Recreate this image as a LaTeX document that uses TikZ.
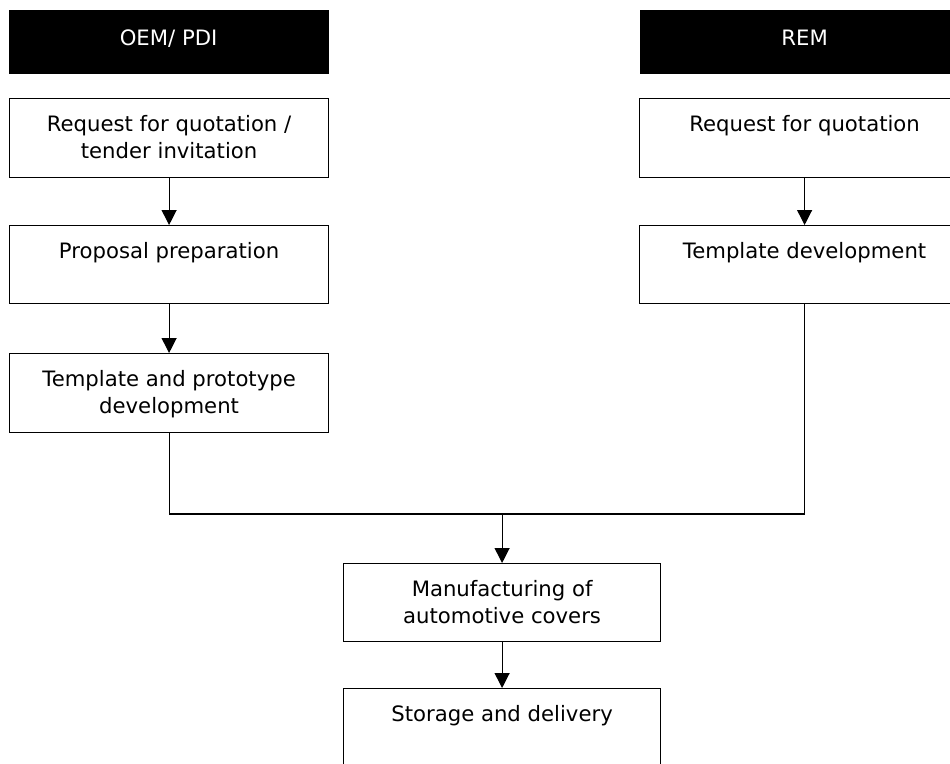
\documentclass[tikz,border=0pt]{standalone}
\usepackage{fontspec}
\setmainfont{DejaVu Sans}
\usetikzlibrary{positioning, arrows.meta}

\tikzset{
  head/.style={fill=black, text=white, anchor=north west, minimum height=64pt, inner sep=0pt, text height=15pt, text depth=8pt},
  stepbox/.style={draw, anchor=north west, inner sep=0pt},
  boxtext/.style={anchor=north, align=center, inner sep=0pt},
}

\begin{document}
\begin{tikzpicture}[x=1pt, y=-1pt, >={Triangle[length=15pt,width=15pt]}, line width=1.2pt, font=\fontsize{21.2}{27}\selectfont]
    \useasboundingbox (0,0) rectangle (950,763);

    \node[head, minimum width=320pt] (oem) at (8,9) {OEM/ PDI};
    \node[head, minimum width=330pt] (rem) at (639,9) {REM};

    \node[stepbox, minimum width=319pt, minimum height=79pt] (lq) at (9,98) {};
    \node[stepbox, minimum width=319pt, minimum height=78pt] (lp) at (9,225) {};
    \node[stepbox, minimum width=319pt, minimum height=79pt] (lt) at (9,353) {};
    \node[stepbox, minimum width=330pt, minimum height=79pt] (rq) at (639,98) {};
    \node[stepbox, minimum width=330pt, minimum height=78pt] (rt) at (639,225) {};
    \node[stepbox, minimum width=317pt, minimum height=78pt] (mf) at (343,563) {};
    \node[stepbox, minimum width=317pt, minimum height=100pt] (sd) at (343,688) {};

    \node[boxtext] (lqt) at ([yshift=-17pt]lq.north) {Request for quotation /\\tender invitation};
    \node[boxtext] (lpt) at ([yshift=-17pt]lp.north) {Proposal preparation};
    \node[boxtext] (ltt) at ([yshift=-17pt]lt.north) {Template and prototype\\development};
    \node[boxtext] (rqt) at ([yshift=-17pt]rq.north) {Request for quotation};
    \node[boxtext] (rtt) at ([yshift=-17pt]rt.north) {Template development};
    \node[boxtext] (mft) at ([yshift=-17pt]mf.north) {Manufacturing of\\automotive covers};
    \node[boxtext] (sdt) at ([yshift=-17pt]sd.north) {Storage and delivery};

    \foreach \a/\b in {lq/lp, lp/lt, rq/rt, mf/sd}
    {
        \draw[->] (\a) -- (\b);
    }

    \coordinate (join) at (mf.north |- 0,514);
    \draw (lt.south) |- (join) -| (rt.south);
    \draw[->] (join) -- (mf);

\end{tikzpicture}
\end{document}
